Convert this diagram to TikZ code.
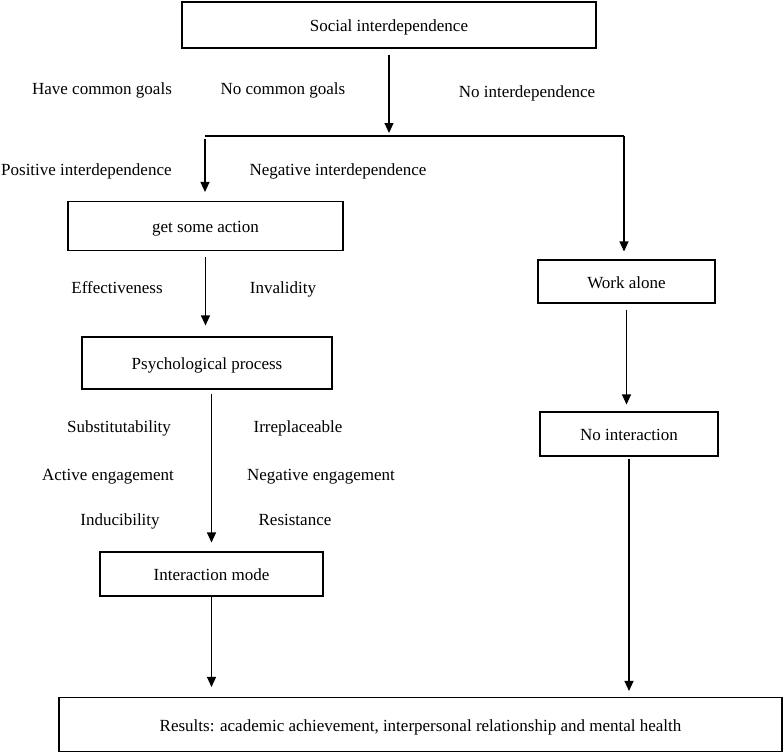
\documentclass[tikz,border=0pt]{standalone}
\usepackage{fontspec}
\setmainfont{Liberation Serif}
\usetikzlibrary{arrows.meta}

\begin{document}
\begin{tikzpicture}[
    x=1pt, y=-1pt,
    font=\fontsize{17}{20}\selectfont,
    box/.style={rectangle, draw=black, line width=1.1pt, text centered, inner sep=0pt, text height=13.5pt, text depth=0pt},
    lbl/.style={inner sep=0pt, text height=7.5pt, text depth=0pt},
    arrow/.style={line width=1.1pt, -{Triangle[width=9pt, length=10pt]}},
    line/.style={line width=1.1pt}
]
\useasboundingbox (0,0) rectangle (784,753);

% --- Nodes ---
% Main column
\node (social) at (389, 25) [box, minimum width=414pt, minimum height=46pt] {Social interdependence};
\node (action) at (205.5, 226) [box, minimum width=275pt, minimum height=49pt] {get some action};
\node (psych) at (207, 363) [box, minimum width=250pt, minimum height=52pt] {Psychological process};
\node (mode) at (211.5, 574) [box, minimum width=223pt, minimum height=44pt] {Interaction mode};

% Right column
\node (alone) at (626.5, 281.5) [box, minimum width=177pt, minimum height=43pt] {Work alone};
\node (nointer) at (629, 434) [box, minimum width=178pt, minimum height=44pt] {No interaction};

% Bottom
\node (results) at (420.5, 724.5) [box, minimum width=723pt, minimum height=54pt] {Results: academic achievement, interpersonal relationship and mental health};

% Branch points
\coordinate (jl) at (205, 136);
\coordinate (jr) at (624, 136);

% --- Labels ---
\node (goals) at (102, 91) [lbl] {Have common goals};
\node (nogoals) at (283, 91) [lbl] {No common goals};
\node (nointerdep) at (527, 94) [lbl] {No interdependence};
\node (posinter) at (1, 172) [lbl, anchor=west] {Positive interdependence};
\node (neginter) at (338, 172) [lbl] {Negative interdependence};
\node (effect) at (117, 290) [lbl] {Effectiveness};
\node (invalid) at (283, 290) [lbl] {Invalidity};
\node (subst) at (119, 429) [lbl] {Substitutability};
\node (irrepl) at (298, 429) [lbl] {Irreplaceable};
\node (active) at (108, 477) [lbl] {Active engagement};
\node (negeng) at (321, 477) [lbl] {Negative engagement};
\node (induc) at (120, 522) [lbl] {Inducibility};
\node (resist) at (295, 522) [lbl] {Resistance};

% --- Edges ---
\draw [arrow, shorten <=6pt, shorten >=3pt] (social.south) -- (social.south |- jl);
\draw [line] (jl) -- (jr);
\draw [arrow, shorten >=8pt] (jr) -- (jr |- alone.north);
\draw [arrow, shorten <=3pt, shorten >=9pt] (jl) -- (jl |- action.north);
\draw [arrow, shorten <=6pt, shorten >=11pt] (action.south) -- (action.south |- psych.north);
\draw [arrow, shorten <=4pt, shorten >=9pt] (mode.north |- psych.south) -- (mode.north);
\draw [arrow, shorten >=10pt] (mode.south) -- (mode.south |- results.north);
\draw [arrow, shorten <=6pt, shorten >=7pt] (alone.south) -- (alone.south |- nointer.north);
\draw [arrow, shorten <=2pt, shorten >=6pt] (nointer.south) -- (nointer.south |- results.north);

\end{tikzpicture}
\end{document}
